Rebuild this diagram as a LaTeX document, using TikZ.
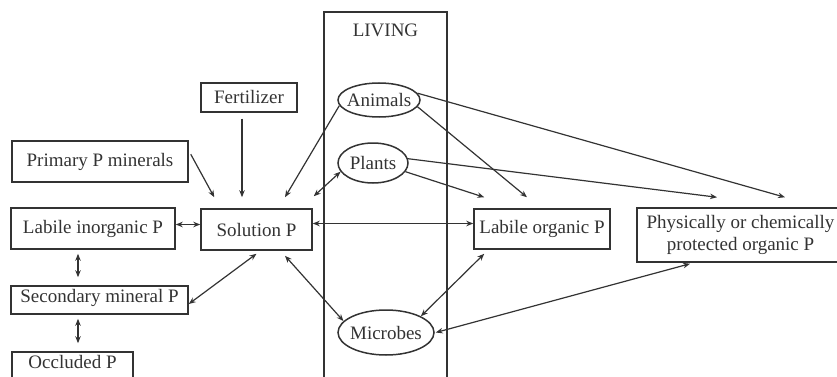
\documentclass[tikz,border=0pt]{standalone}
\usepackage{fontspec}
\setmainfont{Liberation Serif}
\usetikzlibrary{shapes.geometric,arrows.meta}
\begin{document}
\begin{tikzpicture}[x=1pt, y=-1pt, line width=1.2pt, color=black!80, >={Stealth[length=7pt,width=5.5pt]},
                pool/.style={rectangle,draw,line width=1.5pt,inner sep=0pt,font=\fontsize{19}{22}\selectfont},
                life/.style={ellipse,draw,line width=1.5pt,inner sep=-4pt,font=\fontsize{19}{22}\selectfont}]

                \useasboundingbox (0,0) rectangle (837,377);

                \node[pool, minimum width=123pt, text height=25pt, text depth=355pt] at (385.5, 202) (liv) {LIVING};

                \node[pool, minimum width=96pt, minimum height=29pt] at (249, 97.5) (fert) {Fertilizer};
                \node[pool, minimum width=176pt, minimum height=41pt] at (100, 161.5) (prim) {Primary P minerals};
                \node[pool, minimum width=164pt, minimum height=41pt] at (93, 228.5) (lin) {Labile inorganic P};
                \node[pool, minimum width=111pt, minimum height=41pt] at (256.5, 229.5) (sol) {Solution P};
                \node[pool, minimum width=177pt, text height=16pt, text depth=12pt] at (99.5, 300) (sec) {Secondary mineral P};
                \node[pool, minimum width=121pt, text height=16pt, text depth=20pt] at (72.5, 370) (occ) {Occluded P};
                \node[pool, minimum width=136pt, minimum height=40pt] at (542, 229) (lor) {Labile organic P};
                \node[pool, minimum width=207pt, minimum height=54pt, align=center] at (740.5, 235) (phy) {Physically or chemically\\protected organic P};

                \node[life, minimum width=82pt, minimum height=34pt] at (379, 100) (ani) {Animals};
                \node[life, minimum width=70pt, minimum height=40pt] at (373, 163) (pla) {Plants};
                \node[life, minimum width=96pt, minimum height=45pt] at (386, 332.5) (mic) {Microbes};

                % inputs to the solution
                \path[->] ([xshift=2pt,yshift=-14pt]prim.north east) edge ([xshift=14pt,yshift=11pt]sol.north west);
                \path[->] ([xshift=-7pt,yshift=-6pt]fert.south) edge ([xshift=-14.5pt,yshift=11pt]sol.north);
                \path[->] (ani.188) edge ([xshift=28.5pt,yshift=11pt]sol.north);
                \path[<->] (pla.195) edge ([xshift=1pt,yshift=12pt]sol.north east);

                % living to organic pools
                \path[->] (ani.-10) edge ([xshift=-15pt,yshift=11pt]lor.north);
                \path[->] (pla.-15) edge ([xshift=11pt,yshift=11pt]lor.north west);
                \path[->] (ani.10) edge ([xshift=44.5pt,yshift=10pt]phy.north);
                \path[->] (pla.7) edge ([xshift=-23.5pt,yshift=10pt]phy.north);

                % exchanges
                \path[<->] ([yshift=4pt]lin.east) edge ([yshift=4pt]lin.east -| sol.west);
                \path[<->] ([yshift=6pt]sol.east) edge ([yshift=6pt]sol.east -| lor.west);
                \path[<->, shorten <=4pt, shorten >=8pt] ([xshift=-15pt]lin.south) edge ([xshift=-15pt]lin.south |- sec.north);
                \path[<->, shorten <=4pt, shorten >=8pt] ([xshift=-21.5pt]sec.south) edge ([xshift=-21.5pt]sec.south |- occ.north);
                \path[<->] ([yshift=-3pt]sol.south) edge ([yshift=-4pt]sec.east);
                \path[<->] ([xshift=28.5pt,yshift=-5pt]sol.south) edge (mic.165);
                \path[<->] ([xshift=11pt,yshift=-4pt]lor.south west) edge (mic.25);
                \path[<->] ([xshift=-50.5pt,yshift=-1pt]phy.south) edge ([xshift=1pt]mic.east);
            \end{tikzpicture}
\end{document}
